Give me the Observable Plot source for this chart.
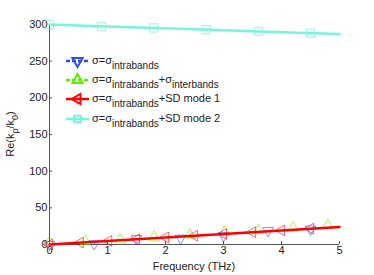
<!DOCTYPE html>
<html><head><meta charset="utf-8">
<script src="https://cdn.jsdelivr.net/npm/d3@7"></script>
<script src="https://cdn.jsdelivr.net/npm/@observablehq/plot@0.6"></script>
<style>body{margin:0;background:#fff}#c{width:374px;height:275px}</style>
</head><body><div id="c"></div>
<script>
const xTicks = [0, 1, 2, 3, 4, 5];
const yTicks = [0, 50, 100, 150, 200, 250, 300];
// solid lines
const lineX = [0, 1, 2, 3, 4, 5];
const redLine = [0, 4.8, 9.6, 14.4, 19.2, 24];
const cyanLine = [300, 297.4, 294.8, 292.2, 289.6, 287];
// markers
const blueX = [0, 0.77, 1.5, 2.26, 3.0, 3.77, 4.5];
const blueY = [0, 1, 8, 8.6, 12, 19, 21];
const greenX = [0, 0.62, 1.22, 1.8, 2.42, 3.02, 3.6, 4.2, 4.8];
const greenY = [3, 4, 6.4, 10, 13, 17, 19, 22.7, 26];
const redX = [0, 0.53, 1.02, 1.5, 2.0, 2.5, 3.0, 3.5, 4.0, 4.5];
const redY = [0, 2.5, 4.9, 7.2, 9.6, 12, 14.4, 16.8, 19.2, 21.6];
const cyanX = [0, 0.9, 1.8, 2.7, 3.6, 4.5];
const cyanY = [300, 297.7, 295.3, 293, 290.6, 288.3];

const colors = {blue: "#2b4cff", green: "#5ef000", red: "#ff0000", cyan: "#78f5d8"};
const mk = (xs, ys) => xs.map((x, i) => ({x, y: ys[i]}));

const font = "'Liberation Sans', Arial, sans-serif";
const chart = Plot.plot({
  width: 374, height: 275,
  marginLeft: 49, marginRight: 35, marginTop: 24, marginBottom: 31,
  style: {fontFamily: font, fontSize: "11px", color: "#222", background: "#fff"},
  x: {domain: [0, 5]},
  y: {domain: [0, 300]},
  marks: [
    Plot.axisX({ticks: xTicks, tickFormat: d3.format("d"), tickSize: -3, tickPadding: 5, label: null, stroke: "#555"}),
    Plot.axisY({ticks: yTicks, tickFormat: d3.format("d"), tickSize: -3, tickPadding: 5, label: null, stroke: "#555"}),
    Plot.ruleX([0], {stroke: "#555"}),
    Plot.ruleY([0], {stroke: "#555"}),
    Plot.line(mk(lineX, cyanLine), {x: "x", y: "y", stroke: colors.cyan, strokeWidth: 2.5}),
    Plot.dot(mk(cyanX, cyanY), {x: "x", y: "y", symbol: "square", r: 4.6, stroke: colors.cyan, strokeWidth: 0.8}),
    Plot.dot(mk(blueX, blueY), {x: "x", y: "y", symbol: "triangle", rotate: 180, r: 4, stroke: colors.blue, strokeWidth: 0.6}),
    Plot.dot(mk(greenX, greenY), {x: "x", y: "y", symbol: "triangle", r: 4, stroke: colors.green, strokeWidth: 0.6}),
    Plot.dot(mk(redX, redY), {x: "x", y: "y", symbol: "triangle", rotate: -90, r: 4, stroke: colors.red, strokeWidth: 0.6}),
    Plot.line(mk(lineX, redLine), {x: "x", y: "y", stroke: colors.red, strokeWidth: 2.5})
  ]
});
document.getElementById("c").appendChild(chart);

const svg = d3.select(chart);
// axis labels
svg.append("text").attr("x", 194).attr("y", 270).attr("text-anchor", "middle")
  .attr("font-family", font).attr("font-size", 11).attr("fill", "#222").text("Frequency (THz)");
const yl = svg.append("text").attr("transform", "translate(14,134) rotate(-90)").attr("text-anchor", "middle")
  .attr("font-family", font).attr("font-size", 11).attr("fill", "#222");
yl.append("tspan").text("Re(k");
yl.append("tspan").attr("dy", 4).attr("font-size", 9).text("ρ");
yl.append("tspan").attr("dy", -4).text("/k");
yl.append("tspan").attr("dy", 4).attr("font-size", 9).text("0");
yl.append("tspan").attr("dy", -4).text(")");

// legend
const legendItems = [
  {color: colors.blue, dash: "4,2", sym: d3.symbolTriangle, rot: 180, parts: [["σ=σ", 0], ["intrabands", 1]]},
  {color: colors.green, dash: "4,2", sym: d3.symbolTriangle, rot: 0, parts: [["σ=σ", 0], ["intrabands", 1], ["+σ", 0], ["interbands", 1]]},
  {color: colors.red, dash: null, sym: d3.symbolTriangle, rot: -90, parts: [["σ=σ", 0], ["intrabands", 1], ["+SD mode 1", 0]]},
  {color: colors.cyan, dash: null, sym: d3.symbolSquare, rot: 0, parts: [["σ=σ", 0], ["intrabands", 1], ["+SD mode 2", 0]]}
];
const ly = [61, 80, 99, 119];
legendItems.forEach((it, i) => {
  const g = svg.append("g").attr("transform", `translate(0,${ly[i]})`);
  g.append("line").attr("x1", 66).attr("x2", 89).attr("y1", 0).attr("y2", 0)
    .attr("stroke", it.color).attr("stroke-width", 2.5).attr("stroke-dasharray", it.dash);
  g.append("path").attr("d", d3.symbol(it.sym, 45)())
    .attr("transform", `translate(77.5,0) rotate(${it.rot})`)
    .attr("fill", "none").attr("stroke", it.color).attr("stroke-width", 2);
  const t = g.append("text").attr("x", 92).attr("y", 3).attr("text-anchor", "start")
    .attr("font-family", font).attr("font-size", 11).attr("fill", "#222");
  let prev = 0;
  it.parts.forEach(([s, sub]) => {
    t.append("tspan").attr("dy", (sub - prev) * 5).attr("font-size", sub ? 10 : 11).text(s);
    prev = sub;
  });
});
</script>
</body></html>
